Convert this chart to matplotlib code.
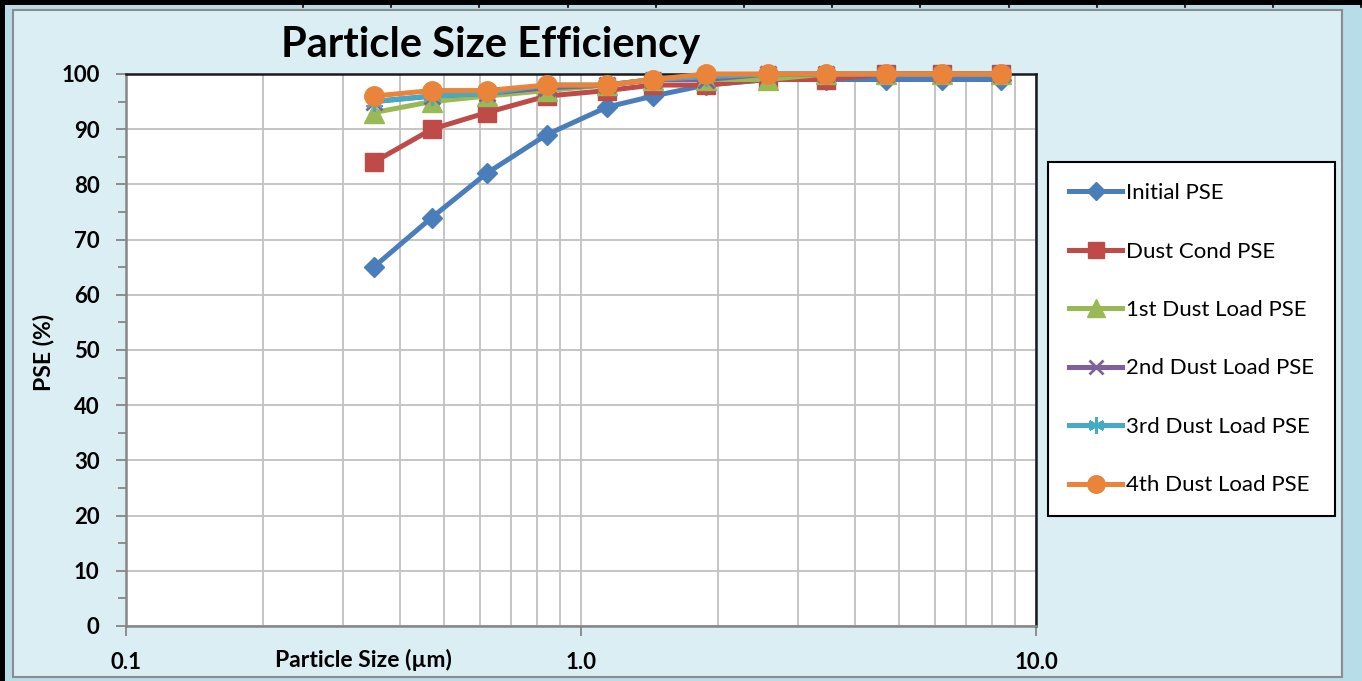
import numpy as np
import matplotlib
matplotlib.use("Agg")
import matplotlib.pyplot as plt
from matplotlib.patches import Rectangle
from matplotlib.lines import Line2D
from matplotlib.ticker import FixedLocator, FixedFormatter, LogLocator, NullFormatter

plt.rcParams['font.family'] = ['Lato', 'DejaVu Sans']

# particle size channels (um)
sizes = [0.35, 0.47, 0.62, 0.84, 1.14, 1.44, 1.88, 2.57, 3.46, 4.69, 6.2, 8.37]

initial_pse = [65, 74, 82, 89, 94, 96, 98, 99, 99, 99, 99, 99]
dust_cond_pse = [84, 90, 93, 96, 97, 98, 98, 99, 99, 100, 100, 100]
load1_pse = [93, 95, 96, 97, 98, 99, 99, 99, 100, 100, 100, 100]
load2_pse = [95, 96, 96.5, 97.5, 98, 99, 99, 100, 100, 100, 100, 100]
load3_pse = [95, 96, 96.5, 98, 98, 99, 99.5, 100, 100, 100, 100, 100]
load4_pse = [96, 97, 97, 98, 98, 99, 100, 100, 100, 100, 100, 100]

series_names = ["Initial PSE", "Dust Cond PSE", "1st Dust Load PSE",
                "2nd Dust Load PSE", "3rd Dust Load PSE", "4th Dust Load PSE"]

x_ticks = [0.1, 1.0, 10.0]
x_tick_labels = ["0.1", "1.0", "10.0"]
y_ticks = list(range(0, 101, 10))

W, H = 1362, 681
fig = plt.figure(figsize=(W / 100, H / 100), dpi=100)
fig.patch.set_facecolor('#b7dde8')

# chart area + border
fig.patches.append(Rectangle((13 / W, 1 - 677 / H), (1342 - 13) / W, (677 - 10) / H,
                             transform=fig.transFigure, facecolor='#daeef3',
                             edgecolor='#8c8c8c', linewidth=1.5, zorder=-10))
# black frame bits at top and left (cropped table border)
fig.patches.append(Rectangle((0, 1 - 5 / H), 1, 5 / H, transform=fig.transFigure,
                             facecolor='black', edgecolor='none', zorder=-5))
fig.patches.append(Rectangle((0, 0), 5 / W, 1, transform=fig.transFigure,
                             facecolor='black', edgecolor='none', zorder=-5))
for xp in np.arange(303, 1362, 88.2):
    fig.lines.append(Line2D([xp / W, xp / W], [1, 1 - 7 / H], transform=fig.transFigure,
                            color='black', linewidth=1.2, zorder=-5))

ax = fig.add_axes([126 / W, 1 - 626 / H, 910 / W, 552 / H])
ax.set_facecolor('white')

styles = [
    dict(color='#4a7ebb', marker='D', ms=10),
    dict(color='#be4b48', marker='s', ms=13),
    dict(color='#98b954', marker='^', ms=14),
    dict(color='#7d60a0', marker='x', ms=11, mew=2),
    dict(color='#46aac5', marker=(6, 2, 0), ms=13, mew=2),
    dict(color='#e9843a', marker='o', ms=14),
]
all_series = [initial_pse, dust_cond_pse, load1_pse, load2_pse, load3_pse, load4_pse]

for vals, name, st in zip(all_series, series_names, styles):
    ax.plot(sizes, vals, color=st['color'], lw=3.6, marker=st['marker'],
            markersize=st['ms'], markeredgewidth=st.get('mew', 1),
            markerfacecolor=st['color'], markeredgecolor=st['color'],
            label=name, clip_on=False, zorder=3)

ax.set_xscale('log')
ax.set_xlim(0.1, 10)
ax.set_ylim(0, 100)

ax.xaxis.set_major_locator(FixedLocator(x_ticks))
ax.xaxis.set_major_formatter(FixedFormatter(x_tick_labels))
ax.xaxis.set_minor_locator(LogLocator(base=10, subs=np.arange(2, 10)))
ax.xaxis.set_minor_formatter(NullFormatter())
ax.set_yticks(y_ticks)
ax.set_yticks(range(5, 100, 10), minor=True)

ax.grid(True, which='both', axis='x', color='#c0c0c0', linewidth=1.3)
ax.grid(True, which='major', axis='y', color='#c0c0c0', linewidth=1.3)
ax.set_axisbelow(True)

ax.tick_params(axis='both', which='major', direction='out', length=7, width=1.3,
               color='#868686', labelsize=16)
ax.tick_params(axis='x', which='major', pad=12)
ax.tick_params(axis='y', which='major', pad=12)
ax.tick_params(axis='y', which='minor', direction='out', length=6, width=1.3, color='#868686')
ax.tick_params(axis='x', which='minor', length=0)
for lbl in ax.get_xticklabels() + ax.get_yticklabels():
    lbl.set_fontweight('bold')

ax.spines['left'].set_color('#868686')
ax.spines['bottom'].set_color('#868686')
ax.spines['top'].set_color('#1a1a1a')
ax.spines['right'].set_color('#1a1a1a')
for sp in ax.spines.values():
    sp.set_linewidth(1.8)

fig.text(491 / W, 1 - 45 / H, "Particle Size Efficiency", fontsize=30,
         fontweight='bold', ha='center', va='center')
fig.text(363 / W, 1 - 660 / H, "Particle Size (\u00b5m)", fontsize=16.5,
         fontweight='bold', ha='center', va='center')
fig.text(43 / W, 1 - 352 / H, "PSE (%)", fontsize=16.5, fontweight='bold',
         rotation=90, ha='center', va='center')

leg = ax.legend(loc='upper left', bbox_to_anchor=(1048 / W, 1 - 162 / H),
                bbox_transform=fig.transFigure, fontsize=16, frameon=True,
                fancybox=False, edgecolor='black', framealpha=1,
                handlelength=2.4, handletextpad=0.15, labelspacing=1.73,
                borderpad=0.95, borderaxespad=0)
leg.get_frame().set_linewidth(1.5)
for h in leg.legend_handles:
    h.set_markersize(h.get_markersize() * 0.9)

fig.savefig("out.png", dpi=100, facecolor=fig.get_facecolor())
